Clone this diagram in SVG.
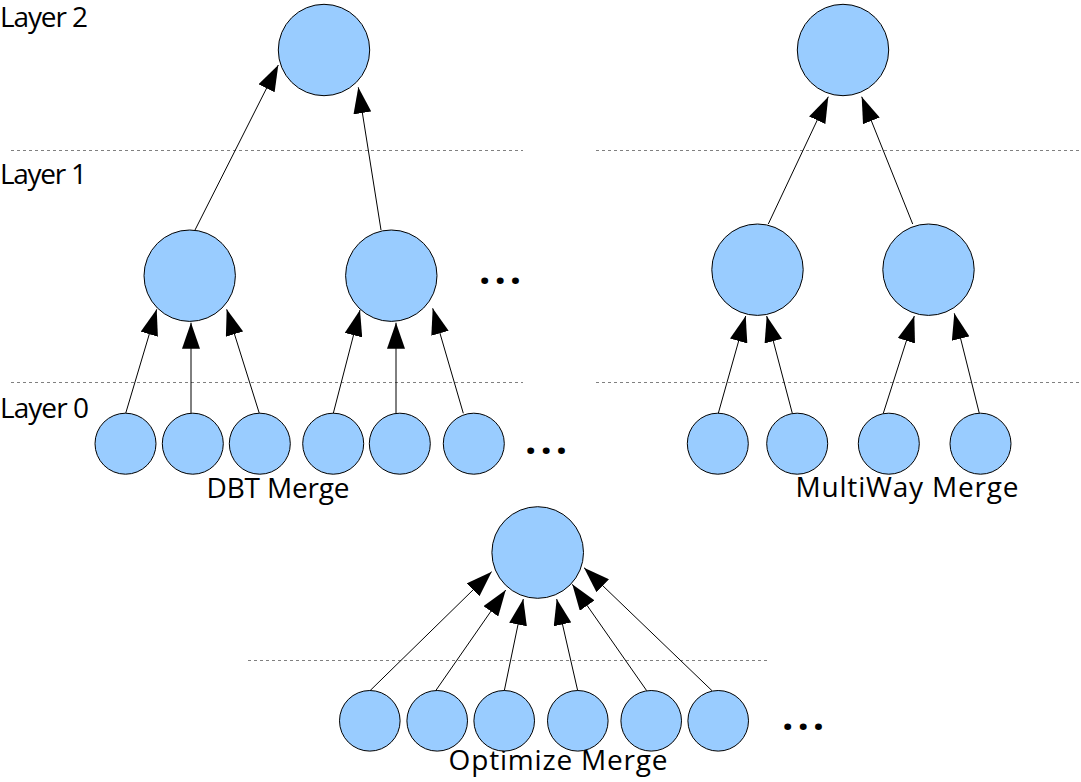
<svg xmlns="http://www.w3.org/2000/svg" width="1081" height="782" viewBox="0 0 1081 782">
<style>
  .node { fill: #99ccff; stroke: #000; stroke-width: 1; }
  .edge { stroke: #000; stroke-width: 1; fill: none; marker-end: url(#arr); }
  .layer { stroke: #808080; stroke-width: 1; stroke-dasharray: 3 3; fill: none; }
  .lbl { font-family: "Open Sans", "Noto Sans", "DejaVu Sans", sans-serif; font-size: 28px; fill: #000; }
  .dots { font-family: "Open Sans", "Noto Sans", sans-serif; font-size: 40px; font-weight: bold; letter-spacing: 4px; fill: #000; }
</style>
<defs>
  <marker id="arr" markerWidth="26" markerHeight="18" refX="26" refY="9" orient="auto" markerUnits="userSpaceOnUse">
    <path d="M0,0 L26,9 L0,18 z" fill="#000"/>
  </marker>
</defs>
<rect width="1081" height="782" fill="#fff"/>

<g id="layer-lines">
  <line class="layer" x1="11" y1="150.5" x2="523" y2="150.5"/>
  <line class="layer" x1="11" y1="382.5" x2="523" y2="382.5"/>
  <line class="layer" x1="596" y1="150.5" x2="1081" y2="150.5"/>
  <line class="layer" x1="596" y1="382.5" x2="1081" y2="382.5"/>
  <line class="layer" x1="248" y1="660.5" x2="767" y2="660.5"/>
</g>

<g id="labels">
  <text class="lbl" x="0" y="27" textLength="88" lengthAdjust="spacing">Layer 2</text>
  <text class="lbl" x="0" y="184.3" textLength="87" lengthAdjust="spacing">Layer 1</text>
  <text class="lbl" x="0" y="418.3" textLength="89" lengthAdjust="spacing">Layer 0</text>
  <text class="lbl" x="206.5" y="497.7" textLength="143" lengthAdjust="spacing">DBT Merge</text>
  <text class="lbl" x="795.5" y="497" textLength="223" lengthAdjust="spacing">MultiWay Merge</text>
  <text class="lbl" x="448.6" y="770" textLength="219" lengthAdjust="spacing">Optimize Merge</text>
  <text class="dots" x="479" y="284">...</text>
  <text class="dots" x="525" y="454">...</text>
  <text class="dots" x="782" y="730">...</text>
</g>

<g id="connectors">
  <!-- DBT -->
  <line class="edge" x1="195" y1="230" x2="278.3" y2="65"/>
  <line class="edge" x1="381" y1="230" x2="358.3" y2="87.3"/>
  <line class="edge" x1="125.7" y1="413.3" x2="156.7" y2="309.3"/>
  <line class="edge" x1="191" y1="413.3" x2="191" y2="322.7"/>
  <line class="edge" x1="259.3" y1="413.3" x2="226.7" y2="309.3"/>
  <line class="edge" x1="333.3" y1="413.3" x2="360" y2="310"/>
  <line class="edge" x1="396" y1="413.3" x2="396" y2="322.7"/>
  <line class="edge" x1="463.3" y1="413.3" x2="432.7" y2="308.3"/>
  <!-- MultiWay -->
  <line class="edge" x1="768.3" y1="224" x2="828.3" y2="96.7"/>
  <line class="edge" x1="912.7" y1="224" x2="861.7" y2="96.7"/>
  <line class="edge" x1="718.3" y1="413.3" x2="745.7" y2="316"/>
  <line class="edge" x1="792.3" y1="413.3" x2="766.7" y2="316"/>
  <line class="edge" x1="883.3" y1="413.3" x2="914.3" y2="316"/>
  <line class="edge" x1="979.3" y1="413.3" x2="954.3" y2="313.3"/>
  <!-- Optimize -->
  <line class="edge" x1="370" y1="690.7" x2="491.7" y2="571.7"/>
  <line class="edge" x1="435.7" y1="690.7" x2="505.7" y2="590"/>
  <line class="edge" x1="504.3" y1="690.7" x2="523.3" y2="599"/>
  <line class="edge" x1="577.7" y1="690.7" x2="556.7" y2="599"/>
  <line class="edge" x1="646.7" y1="690.7" x2="572.3" y2="584.3"/>
  <line class="edge" x1="712" y1="690.7" x2="584" y2="567.7"/>
</g>

<!-- DBT Merge nodes -->
<g id="dbt-root"><circle class="node" cx="324" cy="50" r="45.7"/></g>
<g id="dbt-l1-a"><circle class="node" cx="189.7" cy="275.7" r="45.7"/></g>
<g id="dbt-l1-b"><circle class="node" cx="391.3" cy="275.7" r="45.7"/></g>
<g id="dbt-l0-1"><circle class="node" cx="125.5" cy="443.7" r="30.5"/></g>
<g id="dbt-l0-2"><circle class="node" cx="192.8" cy="443.7" r="30.5"/></g>
<g id="dbt-l0-3"><circle class="node" cx="259.8" cy="443.7" r="30.5"/></g>
<g id="dbt-l0-4"><circle class="node" cx="333.2" cy="443.7" r="30.5"/></g>
<g id="dbt-l0-5"><circle class="node" cx="399.8" cy="443.7" r="30.5"/></g>
<g id="dbt-l0-6"><circle class="node" cx="473.8" cy="443.7" r="30.5"/></g>

<!-- MultiWay Merge nodes -->
<g id="mw-root"><circle class="node" cx="843" cy="50" r="45.7"/></g>
<g id="mw-l1-a"><circle class="node" cx="757.5" cy="269.7" r="45.7"/></g>
<g id="mw-l1-b"><circle class="node" cx="928.5" cy="269.7" r="45.7"/></g>
<g id="mw-l0-1"><circle class="node" cx="717.8" cy="443.7" r="30.5"/></g>
<g id="mw-l0-2"><circle class="node" cx="797.2" cy="443.7" r="30.5"/></g>
<g id="mw-l0-3"><circle class="node" cx="888.8" cy="443.7" r="30.5"/></g>
<g id="mw-l0-4"><circle class="node" cx="980.5" cy="443.7" r="30.5"/></g>

<!-- Optimize Merge nodes -->
<g id="opt-root"><circle class="node" cx="537.7" cy="552.5" r="45.8"/></g>
<g id="opt-l0-1"><circle class="node" cx="369.8" cy="720.8" r="30.3"/></g>
<g id="opt-l0-2"><circle class="node" cx="437.2" cy="720.8" r="30.3"/></g>
<g id="opt-l0-3"><circle class="node" cx="504.2" cy="720.8" r="30.3"/></g>
<g id="opt-l0-4"><circle class="node" cx="577.8" cy="720.8" r="30.3"/></g>
<g id="opt-l0-5"><circle class="node" cx="651.2" cy="720.8" r="30.3"/></g>
<g id="opt-l0-6"><circle class="node" cx="718.2" cy="720.8" r="30.3"/></g>
</svg>
